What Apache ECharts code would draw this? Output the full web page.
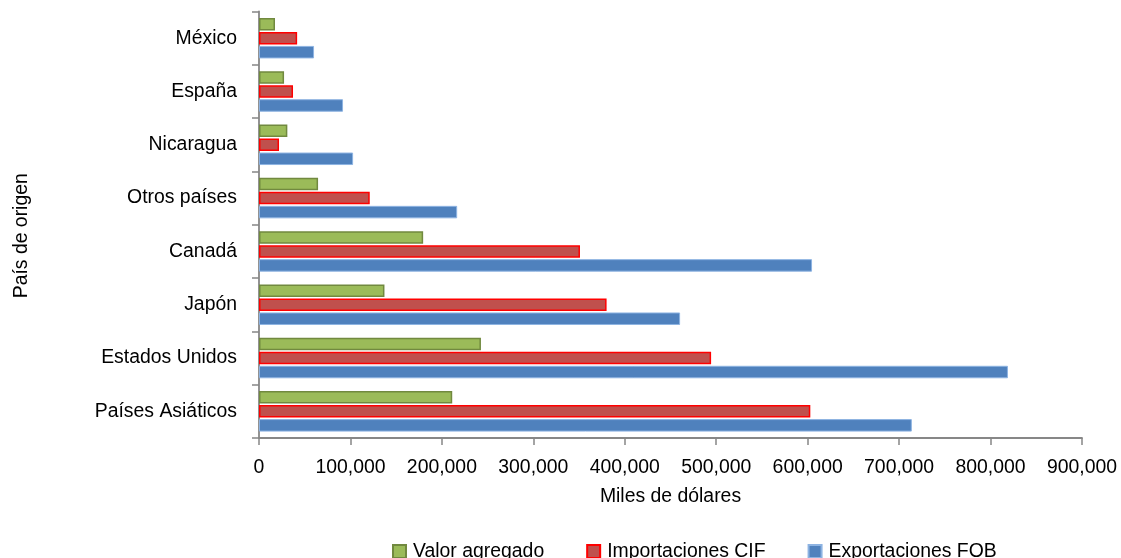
<!DOCTYPE html>
<html>
<head>
<meta charset="utf-8">
<script src="https://cdn.jsdelivr.net/npm/echarts@6/dist/echarts.min.js"></script>
<style>
html,body{margin:0;padding:0;background:#fff;}
#chart{width:1121px;height:558px;}
</style>
</head>
<body>
<div id="chart"></div>
<script>
const categories = ['Países Asiáticos', 'Estados Unidos', 'Japón', 'Canadá', 'Otros países', 'Nicaragua', 'España', 'México'];
const valorAgregado = [211300, 242700, 137200, 179500, 64600, 31000, 27400, 17500];
const importacionesCIF = [602900, 494400, 380100, 351000, 121100, 21900, 37200, 41700];
const exportacionesFOB = [713900, 819000, 460500, 604800, 216700, 102900, 91900, 60200];
const seriesNames = ['Valor agregado', 'Importaciones CIF', 'Exportaciones FOB'];

const FONT = 'Liberation Sans, Arial, sans-serif';
const FS = 19.4;
const axisColor = '#878787';

const chart = echarts.init(document.getElementById('chart'), null, {renderer: 'canvas'});
chart.setOption({
  animation: false,
  backgroundColor: '#ffffff',
  textStyle: {fontFamily: FONT},
  grid: {left: 259, right: 39, top: 11.5, bottom: 120, containLabel: false},
  legend: {
    data: seriesNames,
    left: 387,
    top: 537,
    icon: 'rect',
    itemWidth: 13,
    itemHeight: 13,
    itemGap: 42,
    textStyle: {fontFamily: FONT, fontSize: FS, color: '#000', padding: [0, 0, 0, 2]}
  },
  xAxis: {
    type: 'value',
    min: 0,
    max: 900000,
    interval: 100000,
    name: 'Miles de dólares',
    nameLocation: 'middle',
    nameGap: 49,
    nameTextStyle: {fontFamily: FONT, fontSize: FS, color: '#000'},
    axisLine: {show: true, lineStyle: {color: axisColor, width: 1.8}},
    axisTick: {show: true, inside: false, length: 7, lineStyle: {color: axisColor, width: 1.5}},
    splitLine: {show: false},
    axisLabel: {
      margin: 20,
      fontFamily: FONT, fontSize: FS, color: '#000',
      formatter: function (v) { return v.toLocaleString('en-US'); }
    }
  },
  yAxis: {
    type: 'category',
    data: categories,
    name: 'País de origen',
    nameLocation: 'middle',
    nameGap: 228,
    nameRotate: 90,
    nameTextStyle: {fontFamily: FONT, fontSize: FS, color: '#000', padding: [0, 22, 0, 0]},
    axisLine: {show: true, lineStyle: {color: axisColor, width: 1.8}},
    axisTick: {show: true, inside: false, length: 7, alignWithLabel: false, lineStyle: {color: axisColor, width: 1.5}},
    axisLabel: {margin: 22, fontFamily: FONT, fontSize: FS, color: '#000'},
    splitLine: {show: false}
  },
  series: [
    {
      name: seriesNames[0], type: 'bar', data: valorAgregado,
      barWidth: 12.5, barGap: '12%',
      itemStyle: {color: '#9BBB59', borderColor: '#71893F', borderWidth: 1.5}
    },
    {
      name: seriesNames[1], type: 'bar', data: importacionesCIF,
      barWidth: 12.5, barGap: '12%',
      itemStyle: {color: '#C0504D', borderColor: '#FF0000', borderWidth: 1.5}
    },
    {
      name: seriesNames[2], type: 'bar', data: exportacionesFOB,
      barWidth: 12.5, barGap: '12%',
      itemStyle: {color: '#4F81BD', borderColor: '#8DB3E2', borderWidth: 1}
    }
  ]
});
</script>
</body>
</html>
